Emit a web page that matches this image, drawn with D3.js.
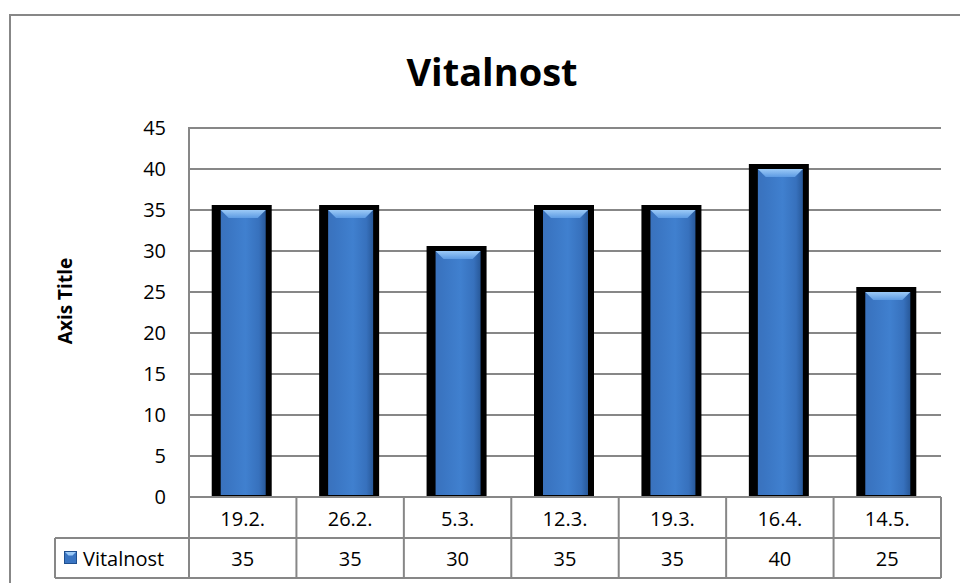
<!DOCTYPE html>
<html>
<head>
  <meta charset="utf-8">
  <script src="https://d3js.org/d3.v7.min.js"></script>
  <style>
    body { margin: 0; background: #fff; }
    text { font-family: "Open Sans", sans-serif; fill: #000; }
  </style>
</head>
<body>
<script>
  // chart data
  var categories = ["19.2.", "26.2.", "5.3.", "12.3.", "19.3.", "16.4.", "14.5."];
  var values = [35, 35, 30, 35, 35, 40, 25];
  var yTicks = [0, 5, 10, 15, 20, 25, 30, 35, 40, 45];
  var seriesName = "Vitalnost";
  var chartTitle = "Vitalnost";
  var axisTitle = "Axis Title";

  var width = 960, height = 583;
  var plotLeft = 189, plotRight = 941, plotTop = 128, zeroY = 497,
      row1 = 538, row2 = 578, legendLeft = 55;
  var lineColor = "#878787";

  var svg = d3.select("body").append("svg")
      .attr("width", width)
      .attr("height", height);

  var defs = svg.append("defs");
  var g1 = defs.append("linearGradient").attr("id", "body")
      .attr("x1", "0").attr("x2", "1").attr("y1", "0").attr("y2", "0");
  g1.append("stop").attr("offset", "0%").attr("stop-color", "#3a72bd");
  g1.append("stop").attr("offset", "15%").attr("stop-color", "#3a75c2");
  g1.append("stop").attr("offset", "55%").attr("stop-color", "#4080cf");
  g1.append("stop").attr("offset", "85%").attr("stop-color", "#3771bd");
  g1.append("stop").attr("offset", "100%").attr("stop-color", "#28599a");
  var g2 = defs.append("linearGradient").attr("id", "bevel")
      .attr("x1", "0").attr("x2", "0").attr("y1", "0").attr("y2", "1");
  g2.append("stop").attr("offset", "0%").attr("stop-color", "#9ccaf7");
  g2.append("stop").attr("offset", "100%").attr("stop-color", "#5d9be3");

  // outer chart border (runs past the right and bottom edges)
  svg.append("rect")
      .attr("x", 10).attr("y", 15)
      .attr("width", 1000).attr("height", 600)
      .attr("fill", "none")
      .attr("stroke", lineColor)
      .attr("stroke-width", 2);

  var x = d3.scaleBand().domain(categories).range([plotLeft, plotRight]);
  var y = d3.scaleLinear().domain([0, 45]).range([zeroY, plotTop]);

  // gridlines
  svg.append("g").selectAll("line")
    .data(yTicks)
    .enter().append("line")
      .attr("x1", plotLeft).attr("x2", plotRight)
      .attr("y1", function (d) { return y(d); })
      .attr("y2", function (d) { return y(d); })
      .attr("stroke", lineColor)
      .attr("stroke-width", 2);

  svg.append("line")
      .attr("x1", plotLeft).attr("x2", plotLeft)
      .attr("y1", plotTop - 1).attr("y2", row2 + 1)
      .attr("stroke", lineColor).attr("stroke-width", 2);

  // y tick labels
  svg.append("g").selectAll("text")
    .data(yTicks)
    .enter().append("text")
      .attr("x", 166)
      .attr("y", function (d) { return y(d) + 7; })
      .attr("text-anchor", "end")
      .style("font-size", "20px")
      .text(function (d) { return d; });

  // bars: black outline, shaded body, light top bevel
  var bars = svg.append("g").selectAll("g")
    .data(values)
    .enter().append("g");

  bars.append("rect")
      .attr("x", function (d, i) { return x(categories[i]) + x.bandwidth() / 2 - 31; })
      .attr("y", function (d) { return y(d) - 5; })
      .attr("width", 60)
      .attr("height", function (d) { return zeroY - y(d) + 5; })
      .attr("fill", "#000");

  bars.append("rect")
      .attr("x", function (d, i) { return x(categories[i]) + x.bandwidth() / 2 - 22; })
      .attr("y", function (d) { return y(d); })
      .attr("width", 45)
      .attr("height", function (d) { return zeroY - y(d) - 2; })
      .attr("fill", "url(#body)");

  bars.append("path")
      .attr("d", function (d, i) {
        var x0 = x(categories[i]) + x.bandwidth() / 2 - 22, x1 = x0 + 45, y0 = y(d);
        return "M" + x0 + "," + y0 + "L" + x1 + "," + y0 +
               "L" + (x1 - 8) + "," + (y0 + 8) + "L" + (x0 + 8) + "," + (y0 + 8) + "Z";
      })
      .attr("fill", "url(#bevel)");

  // data table
  var tbl = svg.append("g");
  tbl.append("line")
      .attr("x1", plotLeft).attr("x2", plotRight)
      .attr("y1", zeroY).attr("y2", zeroY)
      .attr("stroke", lineColor).attr("stroke-width", 2);
  [row1, row2].forEach(function (yy) {
    tbl.append("line")
        .attr("x1", legendLeft).attr("x2", plotRight)
        .attr("y1", yy).attr("y2", yy)
        .attr("stroke", lineColor).attr("stroke-width", 2);
  });
  tbl.append("line")
      .attr("x1", legendLeft).attr("x2", legendLeft)
      .attr("y1", row1).attr("y2", row2)
      .attr("stroke", lineColor).attr("stroke-width", 2);
  tbl.selectAll(".vl")
    .data(categories)
    .enter().append("line")
      .attr("x1", function (d) { return x(d) + x.bandwidth(); })
      .attr("x2", function (d) { return x(d) + x.bandwidth(); })
      .attr("y1", zeroY).attr("y2", row2)
      .attr("stroke", lineColor).attr("stroke-width", 2);

  tbl.selectAll(".cat")
    .data(categories)
    .enter().append("text")
      .attr("x", function (d) { return x(d) + x.bandwidth() / 2; })
      .attr("y", 526)
      .attr("text-anchor", "middle")
      .style("font-size", "20px")
      .text(function (d) { return d; });

  tbl.selectAll(".val")
    .data(values)
    .enter().append("text")
      .attr("x", function (d, i) { return x(categories[i]) + x.bandwidth() / 2; })
      .attr("y", 566)
      .attr("text-anchor", "middle")
      .style("font-size", "20px")
      .text(function (d) { return d; });

  // legend key
  tbl.append("rect")
      .attr("x", 64.5).attr("y", 551.5)
      .attr("width", 12).attr("height", 12)
      .attr("fill", "#3a75c2")
      .attr("stroke", "#1f4f8f").attr("stroke-width", 1);
  tbl.append("path")
      .attr("d", "M65,552L76,552L72.5,555.5L68.5,555.5Z")
      .attr("fill", "#9ccaf7");
  tbl.append("text")
      .attr("x", 83).attr("y", 566)
      .style("font-size", "20px")
      .text(seriesName);

  // titles
  svg.append("text")
      .attr("x", 492).attr("y", 86)
      .attr("text-anchor", "middle")
      .style("font-size", "38px")
      .style("font-weight", "bold")
      .text(chartTitle);

  svg.append("text")
      .attr("transform", "translate(72,301) rotate(-90)")
      .attr("text-anchor", "middle")
      .style("font-size", "19px")
      .style("font-weight", "bold")
      .text(axisTitle);
</script>
</body>
</html>
